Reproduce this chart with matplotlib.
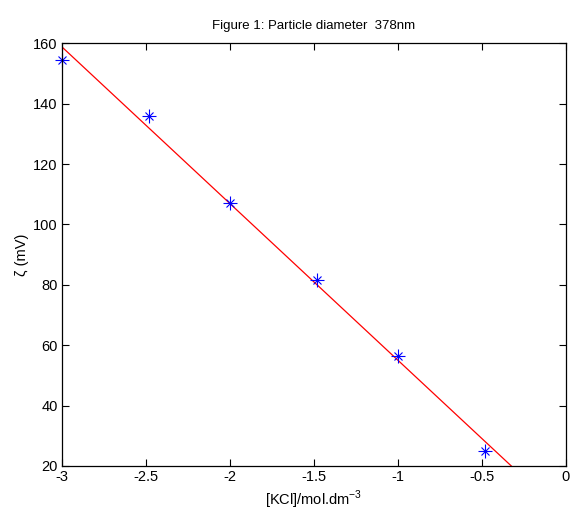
import numpy as np
from matplotlib import pyplot as plt

plt.rcParams['font.family'] = ['Liberation Sans', 'DejaVu Sans']

# log10 [KCl] and zeta potential
log_kcl = [-3.0, -2.48, -2.0, -1.48, -1.0, -0.48]
zeta = [154.5, 136.0, 107.0, 81.5, 56.5, 25.0]

xticks = [-3, -2.5, -2, -1.5, -1, -0.5, 0]
xticklabels = ["-3", "-2.5", "-2", "-1.5", "-1", "-0.5", "0"]
yticks = [20, 40, 60, 80, 100, 120, 140, 160]

fig = plt.figure(figsize=(5.76, 5.16), dpi=100)
ax = fig.add_axes([0.1076, 0.0969, 0.875, 0.8191])

# straight line fit through the points
slope, icpt = np.polyfit(log_kcl, zeta, 1)
xfit = np.linspace(-3, 0, 200)
ax.plot(xfit, slope * xfit + icpt, color="red", lw=0.9)

# matlab style '*' marker: a plus with a smaller cross on top
ax.plot(log_kcl, zeta, linestyle="none", marker="+", ms=10,
        mec="blue", mew=0.8, clip_on=False)
ax.plot(log_kcl, zeta, linestyle="none", marker="x", ms=6,
        mec="blue", mew=0.8, clip_on=False)

ax.set_xlim(-3, 0)
ax.set_ylim(20, 160)
ax.set_xticks(xticks)
ax.set_xticklabels(xticklabels)
ax.set_yticks(yticks)
ax.tick_params(direction="in", top=True, right=True, length=5, width=0.8,
               labelsize=10.5, pad=3)
for s in ax.spines.values():
    s.set_linewidth(0.9)

ax.set_title("Figure 1: Particle diameter  378nm", fontsize=9.5, pad=10)
ax.set_xlabel("[KCl]/mol.dm$^{\\mathregular{-3}}$", fontsize=10.5, labelpad=3)
ax.set_ylabel("ζ (mV)", fontsize=10.5, labelpad=3)

fig.savefig("out.png", dpi=100)
